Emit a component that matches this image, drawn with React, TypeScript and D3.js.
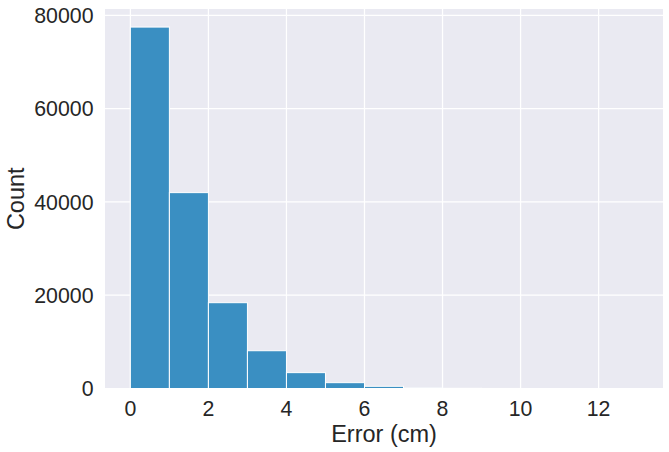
import React from "react";
import * as d3 from "d3";

const binEdges = [0, 1, 2, 3, 4, 5, 6, 7, 8, 9, 10, 11, 12, 13];
const counts = [77500, 42000, 18400, 8100, 3400, 1250, 470, 120, 40, 15, 6, 3, 2];
const xTicks = [0, 2, 4, 6, 8, 10, 12];
const yTicks = [0, 20000, 40000, 60000, 80000];
const xLabel = "Error (cm)";
const yLabel = "Count";

const W = 669;
const H = 452;
const left = 105;
const right = 663;
const top = 9;
const bottom = 388.5;

export default function App() {
  const xMin = binEdges[0];
  const xMax = binEdges[binEdges.length - 1];
  const pad = (xMax - xMin) * 0.05;
  const x = d3.scaleLinear().domain([xMin - pad, xMax + pad]).range([left, right]);
  const yMax = (d3.max(counts) as number) * 1.05;
  const y = d3.scaleLinear().domain([0, yMax]).range([bottom, top]);
  const font = "'Liberation Sans', Arial, sans-serif";
  return (
    <svg
      width={W}
      height={H}
      style={{ position: "absolute", left: 0, top: 0, background: "#fff" }}
      fontFamily={font}
    >
      <rect x={left} y={top} width={right - left} height={bottom - top} fill="#EAEAF2" />
      {xTicks.map((t) => (
        <line key={"gx" + t} x1={x(t)} x2={x(t)} y1={top} y2={bottom} stroke="#fff" strokeWidth={1.25} />
      ))}
      {yTicks.map((t) => (
        <line key={"gy" + t} x1={left} x2={right} y1={y(t)} y2={y(t)} stroke="#fff" strokeWidth={1.25} />
      ))}
      {counts.map((c, i) => (
        <rect
          key={"b" + i}
          x={x(binEdges[i])}
          y={y(c)}
          width={x(binEdges[i + 1]) - x(binEdges[i])}
          height={bottom - y(c)}
          fill="#3a8fc2"
          stroke="#fff"
          strokeWidth={1}
        />
      ))}
      {xTicks.map((t) => (
        <text key={"tx" + t} x={x(t)} y={415.5} fontSize={21.3} textAnchor="middle" fill="#262626">
          {t}
        </text>
      ))}
      {yTicks.map((t) => (
        <text
          key={"ty" + t}
          x={93.5}
          y={y(t)}
          dy="0.36em"
          fontSize={21.3}
          textAnchor="end"
          fill="#262626"
        >
          {t}
        </text>
      ))}
      <text x={(left + right) / 2} y={442} fontSize={23.5} textAnchor="middle" fill="#262626">
        {xLabel}
      </text>
      <text
        transform={`translate(24, ${(top + bottom) / 2}) rotate(-90)`}
        fontSize={23.5}
        textAnchor="middle"
        fill="#262626"
      >
        {yLabel}
      </text>
    </svg>
  );
}
